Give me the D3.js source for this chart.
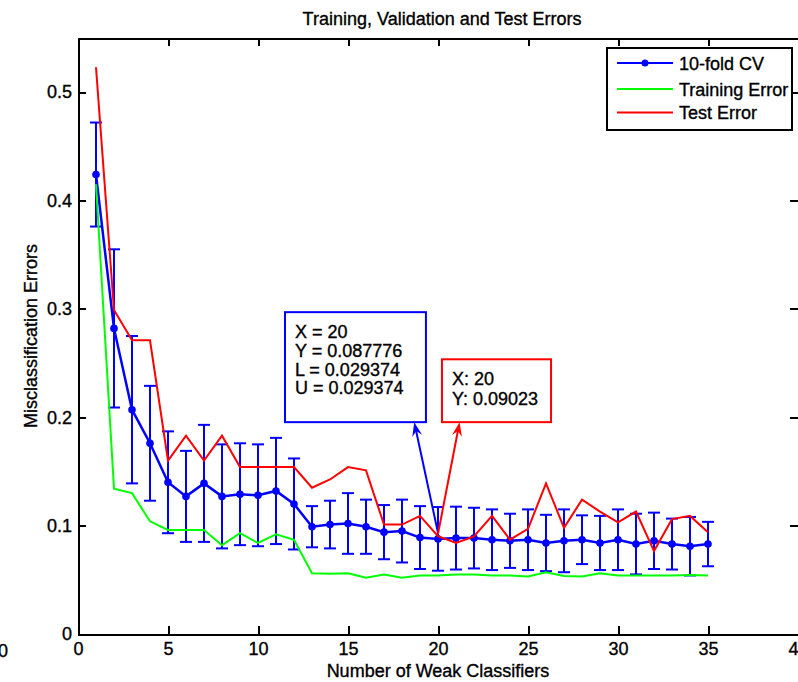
<!DOCTYPE html>
<html>
<head>
<meta charset="utf-8">
<script src="https://cdn.jsdelivr.net/npm/d3@7"></script>
<style>
body { margin: 0; background: #fff; }
svg text { font-family: "Liberation Sans", Arial, Helvetica, sans-serif; fill: #000; stroke: #000; stroke-width: 0.35px; }
</style>
</head>
<body>
<div id="chart"></div>
<script>
var width = 798,
    height = 682;

// number of weak classifiers on the x axis
var classifiers = [1, 2, 3, 4, 5, 6, 7, 8, 9, 10, 11, 12, 13, 14, 15, 16, 17, 18,
    19, 20, 21, 22, 23, 24, 25, 26, 27, 28, 29, 30, 31, 32, 33, 34, 35];

// 10-fold CV mean and its error bar half length
var cvError = [0.424, 0.282, 0.207, 0.176, 0.140, 0.127, 0.139, 0.127, 0.129, 0.128,
    0.132, 0.120, 0.099, 0.101, 0.102, 0.099, 0.094, 0.095, 0.089, 0.087776,
    0.0885, 0.0885, 0.087, 0.086, 0.087, 0.084, 0.086, 0.087, 0.084, 0.087,
    0.083, 0.086, 0.083, 0.081, 0.083];
var cvSpread = [0.048, 0.073, 0.068, 0.053, 0.047, 0.042, 0.054, 0.048, 0.047, 0.047,
    0.049, 0.042, 0.019, 0.022, 0.028, 0.025, 0.025, 0.029, 0.029, 0.029374,
    0.029, 0.028, 0.028, 0.025, 0.028, 0.026, 0.029, 0.0225, 0.025, 0.028,
    0.028, 0.026, 0.0235, 0.027, 0.0205];

var trainError = [0.415, 0.134, 0.130, 0.104, 0.096, 0.096, 0.096, 0.082, 0.093, 0.084,
    0.092, 0.087, 0.056, 0.0556, 0.056, 0.052, 0.055, 0.052, 0.054, 0.054,
    0.055, 0.055, 0.054, 0.054, 0.053, 0.057, 0.0535, 0.053, 0.056, 0.054,
    0.054, 0.054, 0.054, 0.0545, 0.054];

var testError = [0.523, 0.299, 0.271, 0.271, 0.160, 0.183, 0.160, 0.183, 0.154, 0.154,
    0.154, 0.154, 0.135, 0.1426, 0.154, 0.151, 0.101, 0.101, 0.109, 0.09023,
    0.084, 0.090, 0.109, 0.087, 0.097, 0.139, 0.098, 0.124, 0.113, 0.103,
    0.113, 0.0765, 0.106, 0.109, 0.094];

var xTicks = [0, 5, 10, 15, 20, 25, 30, 35, 40];
var yTicks = [0, 0.1, 0.2, 0.3, 0.4, 0.5];

var seriesNames = ["10-fold CV", "Training Error", "Test Error"];
var seriesColors = ["#0000ff", "#00ff00", "#ff0000"];

// data tips
var cvTipLines = ["X = 20", "Y = 0.087776", "L = 0.029374", "U = 0.029374"];
var testTipLines = ["X: 20", "Y: 0.09023"];

var plotLeft = 78, plotRight = 798, plotTop = 38, plotBottom = 634;

var svg = d3.select("#chart").append("svg")
    .attr("width", width)
    .attr("height", height);

var x = d3.scaleLinear().domain([0, 40]).range([plotLeft, plotRight]);
var y = d3.scaleLinear().domain([0, 0.55]).range([plotBottom, plotTop]);

///////////////////////////// axes (matlab box, ticks inside)
function styleAxis(g) {
    g.attr("font-size", 18)
        .attr("font-family", "Liberation Sans, Arial, sans-serif");
    g.selectAll("path, line").attr("stroke", "#000").attr("stroke-width", 2)
        .attr("shape-rendering", "crispEdges");
}

svg.append("g")
    .attr("transform", "translate(0," + plotBottom + ")")
    .call(d3.axisBottom(x).tickValues(xTicks).tickSizeInner(-8).tickSizeOuter(0).tickPadding(8))
    .call(styleAxis);
svg.append("g")
    .attr("transform", "translate(0," + plotTop + ")")
    .call(d3.axisTop(x).tickValues(xTicks).tickSizeInner(-8).tickSizeOuter(0).tickFormat(""))
    .call(styleAxis);
svg.append("g")
    .attr("transform", "translate(" + plotLeft + ",0)")
    .call(d3.axisLeft(y).tickValues(yTicks).tickSizeInner(-8).tickSizeOuter(0).tickPadding(6)
        .tickFormat(function (d) { return d === 0 ? "0" : d3.format(".1f")(d); }))
    .call(styleAxis);
svg.append("g")
    .attr("transform", "translate(" + plotRight + ",0)")
    .call(d3.axisRight(y).tickValues(yTicks).tickSizeInner(-8).tickSizeOuter(0).tickFormat(""))
    .call(styleAxis);

// stray zero from the neighbouring panel
svg.append("text")
    .attr("x", 3)
    .attr("y", 657)
    .attr("font-size", 18)
    .style("text-anchor", "middle")
    .text("0");

///////////////////////////// titles
svg.append("text")
    .attr("x", 442)
    .attr("y", 25)
    .attr("font-size", 18)
    .style("text-anchor", "middle")
    .text("Training, Validation and Test Errors");
svg.append("text")
    .attr("x", (plotLeft + plotRight) / 2)
    .attr("y", 677)
    .attr("font-size", 18)
    .style("text-anchor", "middle")
    .text("Number of Weak Classifiers");
svg.append("text")
    .attr("transform", "translate(37," + (plotTop + plotBottom) / 2 + ") rotate(-90)")
    .attr("font-size", 18)
    .style("text-anchor", "middle")
    .text("Misclassification Errors");

///////////////////////////// series
var cv = classifiers.map(function (c, i) {
    return { x: c, y: cvError[i], e: cvSpread[i] };
});

var line = d3.line()
    .x(function (d) { return x(d[0]); })
    .y(function (d) { return y(d[1]); });

// error bars
var bars = svg.append("g").attr("stroke", seriesColors[0]).attr("stroke-width", 2);
bars.selectAll(".stem")
    .data(cv)
    .enter().append("line")
    .attr("x1", function (d) { return x(d.x); })
    .attr("x2", function (d) { return x(d.x); })
    .attr("y1", function (d) { return y(d.y - d.e); })
    .attr("y2", function (d) { return y(d.y + d.e); });
bars.selectAll(".capTop")
    .data(cv)
    .enter().append("line")
    .attr("x1", function (d) { return x(d.x) - 6; })
    .attr("x2", function (d) { return x(d.x) + 6; })
    .attr("y1", function (d) { return y(d.y + d.e); })
    .attr("y2", function (d) { return y(d.y + d.e); });
bars.selectAll(".capBottom")
    .data(cv)
    .enter().append("line")
    .attr("x1", function (d) { return x(d.x) - 6; })
    .attr("x2", function (d) { return x(d.x) + 6; })
    .attr("y1", function (d) { return y(d.y - d.e); })
    .attr("y2", function (d) { return y(d.y - d.e); });

svg.append("path")
    .attr("d", line(classifiers.map(function (c, i) { return [c, cvError[i]]; })))
    .attr("fill", "none")
    .attr("stroke", seriesColors[0])
    .attr("stroke-width", 2.5);
svg.selectAll(".cvdot")
    .data(cv)
    .enter().append("circle")
    .attr("cx", function (d) { return x(d.x); })
    .attr("cy", function (d) { return y(d.y); })
    .attr("r", 3.8)
    .attr("fill", seriesColors[0]);

svg.append("path")
    .attr("d", line(classifiers.map(function (c, i) { return [c, trainError[i]]; })))
    .attr("fill", "none")
    .attr("stroke", seriesColors[1])
    .attr("stroke-width", 2);

svg.append("path")
    .attr("d", line(classifiers.map(function (c, i) { return [c, testError[i]]; })))
    .attr("fill", "none")
    .attr("stroke", seriesColors[2])
    .attr("stroke-width", 2);

///////////////////////////// legend
var legend = svg.append("g");
legend.append("rect")
    .attr("x", 607)
    .attr("y", 48)
    .attr("width", 185)
    .attr("height", 82)
    .attr("fill", "#fff")
    .attr("stroke", "#000")
    .attr("stroke-width", 2);
var entries = legend.selectAll(".entry")
    .data(seriesNames)
    .enter().append("g")
    .attr("transform", function (d, i) { return "translate(0," + [63, 89, 112.5][i] + ")"; });
entries.append("line")
    .attr("x1", 617)
    .attr("x2", 673)
    .attr("stroke", function (d, i) { return seriesColors[i]; })
    .attr("stroke-width", 2);
entries.append("text")
    .attr("x", 679)
    .attr("y", 6.5)
    .attr("font-size", 18)
    .text(function (d) { return d; });
legend.append("circle")
    .attr("cx", 645)
    .attr("cy", 63)
    .attr("r", 3.5)
    .attr("fill", seriesColors[0]);

///////////////////////////// data tips with arrows
function arrow(color, from, to) {
    var dx = to[0] - from[0], dy = to[1] - from[1];
    var len = Math.sqrt(dx * dx + dy * dy);
    var ux = dx / len, uy = dy / len;
    var px = -uy, py = ux;
    var hl = 14, hw = 5;
    svg.append("line")
        .attr("x1", from[0]).attr("y1", from[1])
        .attr("x2", to[0] - ux * 6).attr("y2", to[1] - uy * 6)
        .attr("stroke", color)
        .attr("stroke-width", 2);
    var pts = [
        to,
        [to[0] - ux * hl + px * hw, to[1] - uy * hl + py * hw],
        [to[0] - ux * hl * 0.65, to[1] - uy * hl * 0.65],
        [to[0] - ux * hl - px * hw, to[1] - uy * hl - py * hw]
    ];
    svg.append("polygon")
        .attr("points", pts.map(function (p) { return p.join(","); }).join(" "))
        .attr("fill", color);
}

function dataTip(color, x0, x1, y0, y1, lines, first, step) {
    svg.append("rect")
        .attr("x", x(x0))
        .attr("y", y(y1))
        .attr("width", x(x1) - x(x0))
        .attr("height", y(y0) - y(y1))
        .attr("fill", "#fff")
        .attr("stroke", color)
        .attr("stroke-width", 2);
    svg.selectAll(null)
        .data(lines)
        .enter().append("text")
        .attr("x", x(x0) + 10)
        .attr("y", function (d, i) { return y(y1) + first + i * step; })
        .attr("font-size", 18)
        .text(function (d) { return d; });
}

var i20 = classifiers.indexOf(20);
arrow(seriesColors[0], [x(20), y(cvError[i20]) - 6], [x(18.68), y(0.1955)]);
arrow(seriesColors[2], [x(20), y(cvError[i20]) - 5], [x(21.2), y(0.1955)]);

dataTip(seriesColors[0], 11.5, 19.33, 0.1955, 0.297, cvTipLines, 26, 18.7);
dataTip(seriesColors[2], 20.22, 26.28, 0.1955, 0.2535, testTipLines, 26, 20);
</script>
</body>
</html>
